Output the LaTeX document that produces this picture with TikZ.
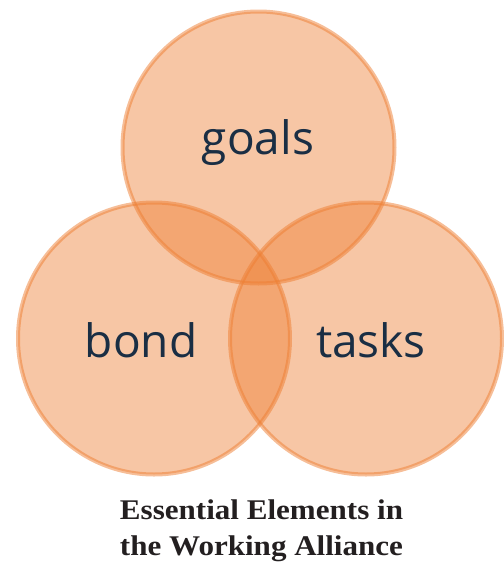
\documentclass[tikz,border=0pt]{standalone}
\usepackage{fontspec}
\setmainfont{Liberation Serif}
\newfontfamily\labelfont{Open Sans}
\definecolor{vorange}{HTML}{ED7D31}
\definecolor{vnavy}{HTML}{1A2E44}
\definecolor{vtitle}{HTML}{231F20}
\begin{document}
\begin{tikzpicture}[x=1pt,y=-1pt,
  vcircle/.style={fill=vorange, fill opacity=0.44, draw=vorange, draw opacity=0.5, line width=4pt, circle, minimum size=272pt, inner sep=0pt},
  vlabel/.style={text=vnavy, font=\labelfont\fontsize{46}{50}\selectfont, anchor=base, inner sep=0pt},
  vtitlestyle/.style={text=vtitle, font=\bfseries\fontsize{28.5}{36}\selectfont, align=center, anchor=base, inner sep=0pt}]
\useasboundingbox (0,0) rectangle (504,563);
\node[vcircle] (goalsc) at (258.5,147.5) {};
\node[vcircle] (bondc) at (154,338.5) {};
\node[vcircle] (tasksc) at (366,338.5) {};
\node[vlabel] (goals) at (258,154) {goals};
\node[vlabel] (bond) at (141,357) {bond};
\node[vlabel] (tasks) at (371,357) {tasks};
\node[vtitlestyle] (title1) at (261.5,519) {\scalebox{1.09}[1]{Essential Elements in}};
\node[vtitlestyle] (title2) at (261.5,555) {\scalebox{1.09}[1]{the Working Alliance}};
\end{tikzpicture}
\end{document}
